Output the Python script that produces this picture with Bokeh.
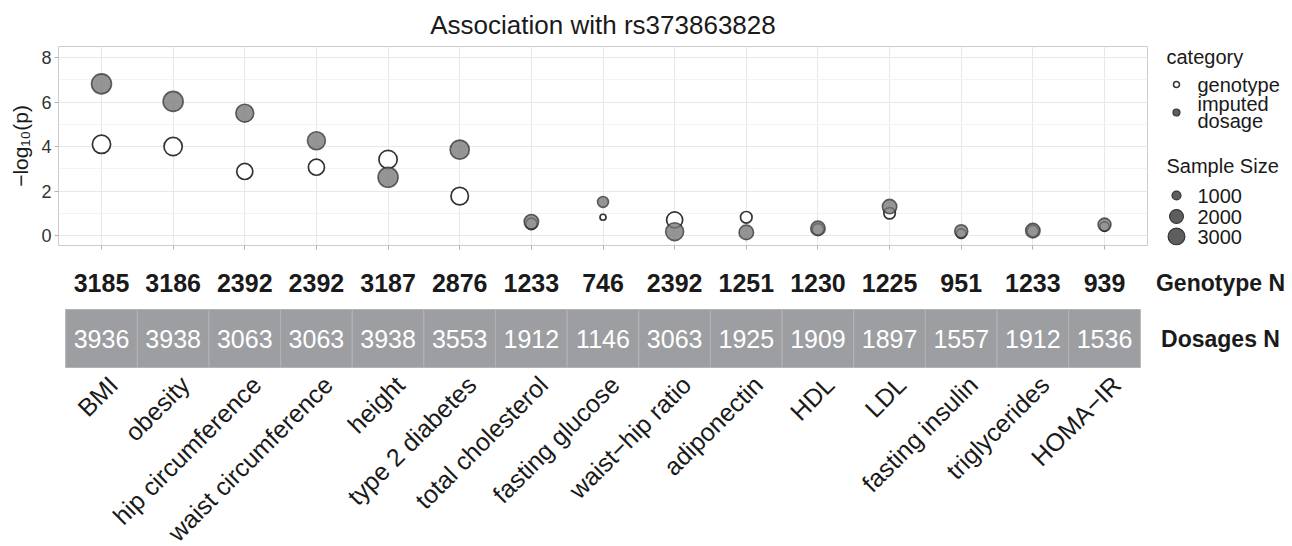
import numpy as np
from bokeh.plotting import figure
from bokeh.layouts import column, row
from bokeh.models import Range1d, FixedTicker, ColumnDataSource
from bokeh.core.properties import value
from bokeh.embed import file_html
from bokeh.resources import INLINE

# ---------------- data ----------------
categories = ["BMI", "obesity", "hip circumference", "waist circumference", "height",
              "type 2 diabetes", "total cholesterol", "fasting glucose", "waist\u2212hip ratio",
              "adiponectin", "HDL", "LDL", "fasting insulin", "triglycerides", "HOMA\u2212IR"]
genotype_n = [3185, 3186, 2392, 2392, 3187, 2876, 1233, 746, 2392, 1251, 1230, 1225, 951, 1233, 939]
dosage_n = [3936, 3938, 3063, 3063, 3938, 3553, 1912, 1146, 3063, 1925, 1909, 1897, 1557, 1912, 1536]
genotype_logp = [4.10, 4.00, 2.88, 3.07, 3.42, 1.77, 0.52, 0.82, 0.70, 0.82, 0.28, 1.00, 0.08, 0.20, 0.40]
dosage_logp = [6.82, 6.03, 5.50, 4.26, 2.62, 3.86, 0.62, 1.51, 0.17, 0.14, 0.32, 1.30, 0.19, 0.22, 0.49]
y_ticks = [0, 2, 4, 6, 8]
y_minor = [1, 3, 5, 7]
legend_sizes = [1000, 2000, 3000]
title_text = "Association with rs373863828"

FONT = "Liberation Sans"
xs = list(range(1, len(categories) + 1))
NMIN = min(genotype_n + dosage_n)
NMAX = max(genotype_n + dosage_n)


def size_scale(n):
    # area scale (like ggplot scale_size) mapped to a screen diameter
    r = np.sqrt((np.asarray(n, dtype=float) - NMIN) / (NMAX - NMIN))
    return 3.2 + 2.8 * (1 + 5 * np.clip(r, 0, 1))


# ---------------- main panel ----------------
TOTAL_W, TOTAL_H = 1292, 546
X0, X1 = 0.4, len(categories) + 0.6
MAIN_W, MAIN_H = 1150, 253
BL, BR, BT, BB = 58, 3, 46, 8
PPU = (MAIN_W - BL - BR) / (X1 - X0)

p = figure(width=MAIN_W, height=MAIN_H, x_range=Range1d(X0, X1), y_range=Range1d(-0.45, 8.5),
           output_backend="svg", toolbar_location=None,
           min_border_left=BL, min_border_right=BR, min_border_bottom=BB, min_border_top=BT,
           title=title_text)
p.title.align = "center"
p.title.text_font = FONT
p.title.text_font_size = "26px"
p.title.text_font_style = "normal"
p.title.text_color = "#1a1a1a"
p.title.standoff = 13

p.xaxis.ticker = FixedTicker(ticks=xs)
p.xaxis.major_label_text_font_size = "1px"
p.xaxis.major_label_text_alpha = 0
p.xaxis.major_label_standoff = 0
p.xaxis.axis_line_color = None
p.xaxis.major_tick_line_color = "#b3b3b3"
p.xaxis.major_tick_out = 4
p.xaxis.major_tick_in = 0
p.xaxis.minor_tick_line_color = None

p.yaxis.ticker = FixedTicker(ticks=y_ticks, minor_ticks=y_minor)
p.yaxis.major_label_text_font = FONT
p.yaxis.major_label_text_font_size = "18px"
p.yaxis.major_label_text_color = "#333333"
p.yaxis.major_label_standoff = 3
p.yaxis.major_tick_line_color = "#b3b3b3"
p.yaxis.major_tick_out = 4
p.yaxis.major_tick_in = 0
p.yaxis.minor_tick_line_color = None
p.yaxis.axis_line_color = None
p.yaxis.axis_label = "\u2212log\u2081\u2080(p)"
p.yaxis.axis_label_text_font = FONT
p.yaxis.axis_label_text_font_size = "21px"
p.yaxis.axis_label_text_font_style = "normal"
p.yaxis.axis_label_text_color = "#1a1a1a"
p.yaxis.axis_label_standoff = 6

p.xgrid.grid_line_color = "#e8e8e8"
p.ygrid.grid_line_color = "#e8e8e8"
p.ygrid.minor_grid_line_color = "#f3f3f3"
p.outline_line_color = "#cccccc"
p.background_fill_color = "white"

src_g = ColumnDataSource(dict(x=xs, y=genotype_logp, s=size_scale(genotype_n)))
src_d = ColumnDataSource(dict(x=xs, y=dosage_logp, s=size_scale(dosage_n)))
p.scatter("x", "y", size="s", source=src_g, marker="circle",
          fill_color="white", line_color="#333333", line_width=1.7)
p.scatter("x", "y", size="s", source=src_d, marker="circle",
          fill_color="#7b7b7b", fill_alpha=0.8, line_color="#333333", line_alpha=0.75, line_width=1.6)

# ---------------- legend panel (page pixel coordinates, frame aligned with main) ----------------
LEG_W = TOTAL_W - MAIN_W
lg = figure(width=LEG_W, height=MAIN_H, x_range=Range1d(MAIN_W, TOTAL_W),
            y_range=Range1d(MAIN_H - BB, BT),
            output_backend="svg", toolbar_location=None,
            min_border_left=0, min_border_right=0, min_border_top=BT, min_border_bottom=BB,
            x_axis_location=None, y_axis_location=None)
lg.grid.visible = False
lg.outline_line_color = None


def ltext(x, y, t, size="20px"):
    lg.text(x=[x], y=[y], text=[t], text_font=value(FONT), text_font_size=value(size),
            text_color="#1a1a1a", text_align="left", text_baseline="middle")


ltext(1166, 56, "category")
lg.scatter(x=[1176], y=[84], size=6, marker="circle", fill_color="white", line_color="#333333", line_width=1.5)
lg.scatter(x=[1176], y=[112], size=7, marker="circle", fill_color="#5e5e5e", line_color="#333333", line_width=1.2)
ltext(1197, 84, "genotype")
ltext(1197, 103, "imputed")
ltext(1197, 120, "dosage")
ltext(1166, 165, "Sample Size")
leg_y = [195, 216, 236]
lg.scatter(x=[1176] * 3, y=leg_y, size=size_scale(legend_sizes) - 1, marker="circle",
           fill_color="#5e5e5e", line_color="#333333", line_width=1.2)
for yy, n in zip(leg_y, legend_sizes):
    ltext(1197, yy, str(n))

# ---------------- table + category labels ----------------
LOW_H = TOTAL_H - MAIN_H
LX0 = X0 - BL / PPU
LX1 = LX0 + TOTAL_W / PPU
q = figure(width=TOTAL_W, height=LOW_H, x_range=Range1d(LX0, LX1), y_range=Range1d(TOTAL_H, MAIN_H),
           output_backend="svg", toolbar_location=None, min_border=0,
           x_axis_location=None, y_axis_location=None)
q.grid.visible = False
q.outline_line_color = None


def px_to_x(px):
    return X0 + (px - BL) / PPU


q.text(x=xs, y=[282] * len(xs), text=[str(n) for n in genotype_n], text_font=value(FONT),
       text_font_size=value("25px"), text_font_style="bold", text_color="#1a1a1a",
       text_align="center", text_baseline="middle")
q.text(x=[px_to_x(1220)], y=[282], text=["Genotype N"], text_font=value(FONT),
       text_font_size=value("23px"), text_font_style="bold", text_color="#1a1a1a",
       text_align="center", text_baseline="middle")

q.rect(x=xs, y=[338] * len(xs), width=1, height=58, fill_color="#9d9ea2",
       line_color="#b2b3b6", line_width=1)
q.text(x=xs, y=[338] * len(xs), text=[str(n) for n in dosage_n], text_font=value(FONT),
       text_font_size=value("25px"), text_color="white",
       text_align="center", text_baseline="middle")
q.text(x=[px_to_x(1220)], y=[338], text=["Dosages N"], text_font=value(FONT),
       text_font_size=value("23px"), text_font_style="bold", text_color="#1a1a1a",
       text_align="center", text_baseline="middle")

q.text(x=[x + 2 / PPU for x in xs], y=[370] * len(xs), text=categories, text_font=value(FONT),
       text_font_size=value("25px"), text_color="#1a1a1a", angle=np.pi / 4,
       text_align="right", text_baseline="top")

layout = column(row(p, lg, spacing=0), q, spacing=0)
open("out.html", "w").write(file_html(layout, INLINE))
